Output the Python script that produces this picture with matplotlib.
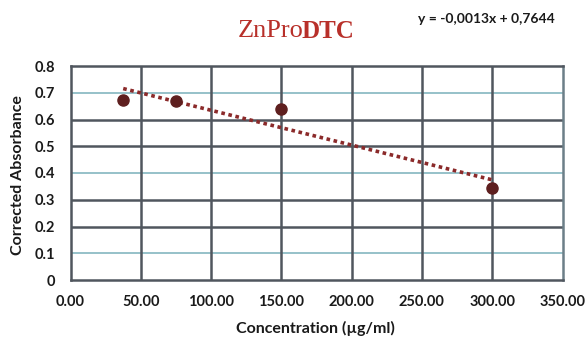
import matplotlib
matplotlib.use("Agg")
import matplotlib.pyplot as plt
import numpy as np

conc = [37.5, 75.0, 150.0, 300.0]
absorb = [0.672, 0.668, 0.640, 0.345]
slope = -0.0013
intercept = 0.7644
xticks = [0, 50, 100, 150, 200, 250, 300, 350]
yticks = [0, 0.1, 0.2, 0.3, 0.4, 0.5, 0.6, 0.7, 0.8]

W, H = 587, 338
fig = plt.figure(figsize=(W/100, H/100), dpi=100)
L, R, T, B = 70.5, 562.5, 66, 280
ax = fig.add_axes([L/W, 1-B/H, (R-L)/W, (B-T)/H])

grid_dark = "#50565e"
grid_teal = "#8dbcc5"
for y in yticks[1:-1]:
    teal = round(y*10) in (1, 4, 7)
    ax.axhline(y, color=grid_teal if teal else grid_dark, lw=1.3 if teal else 1.8, zorder=1)
for x in xticks[1:-1]:
    ax.axvline(x, color=grid_dark, lw=1.8, zorder=1)

for s in ax.spines.values():
    s.set_color(grid_dark)
    s.set_linewidth(1.8)
ax.spines["right"].set_color("#6c7f88")

xs = np.array([min(conc), max(conc)])
ax.plot(xs, slope*xs + intercept, ls=(0, (1, 1)), color="#8b2a2a", lw=2.6, zorder=2)
ax.plot(conc, absorb, 'o', color="#5e1f1f", ms=8, zorder=3)

ax.set_xlim(0, 350)
ax.set_ylim(0, 0.8)
ax.set_xticks(xticks)
ax.set_xticklabels([f"{v:.2f}" for v in xticks])
ax.set_yticks(yticks)
ax.set_yticklabels(["0"] + [f"{v:g}" for v in yticks[1:]])
ax.tick_params(axis="y", length=0, pad=11, labelsize=10.5)
ax.tick_params(axis="x", length=0, pad=11, labelsize=10.5)
for lab in ax.get_xticklabels() + ax.get_yticklabels():
    lab.set_fontfamily("Lato")
    lab.set_fontweight("bold")
    lab.set_color("#1a1a1a")

fig.text(315/W, 1-328/H, "Concentration (µg/ml)", fontfamily="Lato", fontweight="bold",
         fontsize=11.5, color="#1a1a1a", ha="center", va="center")
fig.text(18/W, 1-175/H, "Corrected Absorbance", fontfamily="Lato", fontweight="bold",
         fontsize=11.5, color="#1a1a1a", ha="center", va="center", rotation=90)

fig.text(304/W, 1-31/H, "ZnPro", fontfamily="Liberation Serif",
         fontsize=19, color="#b8302a", ha="right", va="center")
fig.text(301/W, 1-31/H, "DTC", fontfamily="Liberation Serif", fontweight="bold",
         fontsize=18, color="#b8302a", ha="left", va="center")
fig.text(486/W, 1-19/H, "y = -0,0013x + 0,7644", fontfamily="Lato",
         fontweight="bold", fontsize=10, color="#1a1a1a", ha="center", va="center")

fig.savefig("out.png", dpi=100)
